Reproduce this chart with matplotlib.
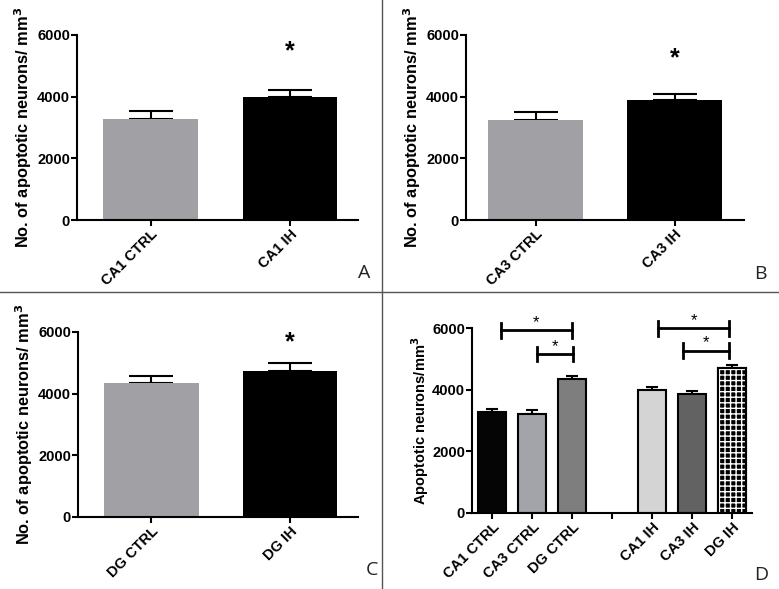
import numpy as np
import matplotlib.pyplot as plt
from matplotlib.lines import Line2D

plt.rcParams['font.family'] = ['Liberation Sans', 'DejaVu Sans']

# panels A-C: CTRL vs IH per region
labels_a = ["CA1 CTRL", "CA1 IH"]
mean_a = [3260, 4000]
sem_a = [275, 210]

labels_b = ["CA3 CTRL", "CA3 IH"]
mean_b = [3230, 3890]
sem_b = [285, 210]

labels_c = ["DG CTRL", "DG IH"]
mean_c = [4350, 4730]
sem_c = [220, 270]

star_y = [5460, 5245, 5670]

# panel D: all groups
labels_d = ["CA1 CTRL", "CA3 CTRL", "DG CTRL", "", "CA1 IH", "CA3 IH", "DG IH"]
pos_d = [0, 1, 2, 4, 5, 6]
mean_d = [3260, 3220, 4345, 4000, 3870, 4705]
sem_d = [115, 125, 95, 75, 95, 105]
colors_d = ["#050505", "#a3a3aa", "#7e7e7e", "#d4d4d4", "#626262", "#000000"]
brackets = [(0.22, 2.0, 5920), (1.12, 2.03, 5160), (4.15, 5.93, 5990), (4.78, 5.93, 5260)]

W, H = 779, 589
fig = plt.figure(figsize=(W / 100, H / 100), dpi=100)


def ax_at(left, right, top, bottom):
    return fig.add_axes([left / W, 1 - bottom / H, (right - left) / W, (bottom - top) / H])


def style(ax, ylabel, lsize, lpad):
    for s in ["top", "right"]:
        ax.spines[s].set_visible(False)
    for s in ["left", "bottom"]:
        ax.spines[s].set_linewidth(1.5)
    ax.set_ylim(0, 6000)
    ax.set_yticks([0, 2000, 4000, 6000])
    ax.tick_params(width=1.5, length=4, labelsize=10.5, pad=1)
    for t in ax.get_yticklabels():
        t.set_fontweight("bold")
    ax.set_ylabel(ylabel, fontsize=lsize, fontweight="bold", labelpad=lpad)


def small_panel(ax, labels, means, sems, sy, xlim):
    x = np.arange(2)
    ax.bar(x, means, width=0.68, color=["#a1a1a5", "#000000"], zorder=2)
    ax.errorbar(x, means, yerr=[[0, 0], sems], fmt="none", ecolor="black",
                elinewidth=1.5, capsize=16, capthick=1.5, zorder=1)
    ax.set_xlim(*xlim)
    ax.set_xticks(x)
    ax.set_xticklabels(labels, rotation=45, ha="right", rotation_mode="anchor",
                       fontweight="bold")
    style(ax, "No. of apoptotic neurons/ mm$^\\mathbf{3}$", 11.8, 2)
    ax.text(1, sy, "*", ha="center", va="center", fontsize=18, fontweight="bold")


ax1 = ax_at(77, 358, 35, 220)
small_panel(ax1, labels_a, mean_a, sem_a, star_y[0], (-0.53, 1.49))
ax2 = ax_at(466, 744, 35, 220)
small_panel(ax2, labels_b, mean_b, sem_b, star_y[1], (-0.5, 1.5))
ax3 = ax_at(78, 358, 332, 517)
small_panel(ax3, labels_c, mean_c, sem_c, star_y[2], (-0.53, 1.49))

# panel D
ax4 = ax_at(472, 752, 328, 513)
ax4.bar(pos_d, mean_d, width=0.68, color=colors_d, edgecolor="black", linewidth=1.5, zorder=2)
ax4.bar(pos_d[-1], mean_d[-1], width=0.68, color="black", edgecolor="white",
        hatch="+++", linewidth=0, zorder=3)
ax4.bar(pos_d[-1], mean_d[-1], width=0.68, fill=False, edgecolor="black",
        linewidth=1.5, zorder=4)
ax4.errorbar(pos_d, mean_d, yerr=[[0] * 6, sem_d], fmt="none", ecolor="black",
             elinewidth=1.5, capsize=4.5, capthick=1.5, zorder=1)
ax4.set_xlim(-0.5, 6.5)
ax4.set_xticks(range(7))
ax4.set_xticklabels(labels_d, rotation=45, ha="right", rotation_mode="anchor",
                    fontweight="bold")
style(ax4, "Apoptotic neurons/mm$^\\mathbf{3}$", 10.5, 1)
for x0, x1, y in brackets:
    ax4.plot([x0, x1], [y, y], color="black", lw=2, clip_on=False)
    for xe in (x0, x1):
        ax4.plot([xe, xe], [y - 240, y + 240], color="black", lw=2, clip_on=False)
    ax4.text((x0 + x1) / 2, y + 250, "*", ha="center", va="center", fontsize=12,
             clip_on=False)

# separators and panel letters
fig.add_artist(Line2D([0, 1], [1 - 292 / H] * 2, color="#555555", lw=1))
fig.add_artist(Line2D([382 / W] * 2, [0, 1], color="#555555", lw=1))
for lx, ly, t in [(364, 273, "A"), (760, 274, "B"), (372, 570, "C"), (761, 575, "D")]:
    fig.text(lx / W, 1 - ly / H, t, ha="center", va="center", fontsize=14,
             family="Open Sans", color="#222222")

fig.savefig("out.png", dpi=100)
